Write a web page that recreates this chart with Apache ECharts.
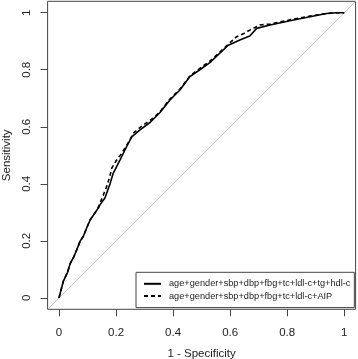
<!DOCTYPE html>
<html>
<head>
<meta charset="utf-8">
<script src="https://cdn.jsdelivr.net/npm/echarts@6/dist/echarts.min.js"></script>
<style>
  html, body { margin: 0; padding: 0; background: #fff; }
  #chart { width: 358px; height: 359px; }
</style>
</head>
<body>
<div id="chart"></div>
<script>
// ROC curves (1 - specificity, sensitivity)
const modelNames = [
  'age+gender+sbp+dbp+fbg+tc+ldl-c+tg+hdl-c',
  'age+gender+sbp+dbp+fbg+tc+ldl-c+AIP'
]
const fprA = [0, 0.004, 0.015, 0.021, 0.03, 0.039, 0.05, 0.062, 0.074, 0.085, 0.097, 0.109, 0.126, 0.138, 0.144, 0.161, 0.167, 0.179, 0.19, 0.214, 0.237, 0.255, 0.284, 0.319, 0.354, 0.389, 0.424, 0.459, 0.494, 0.529, 0.564, 0.592, 0.634, 0.669, 0.693, 0.74, 0.81, 0.88, 0.938, 0.97, 1]
const tprA = [0, 0.005, 0.058, 0.06, 0.09, 0.12, 0.14, 0.168, 0.199, 0.215, 0.245, 0.273, 0.298, 0.315, 0.327, 0.35, 0.367, 0.4, 0.437, 0.484, 0.53, 0.565, 0.589, 0.615, 0.65, 0.694, 0.729, 0.776, 0.8, 0.825, 0.858, 0.885, 0.904, 0.918, 0.945, 0.957, 0.972, 0.986, 0.997, 1, 1]
const fprB = [0, 0.004, 0.015, 0.021, 0.03, 0.039, 0.05, 0.062, 0.074, 0.085, 0.097, 0.109, 0.126, 0.138, 0.155, 0.167, 0.178, 0.185, 0.2, 0.22, 0.249, 0.26, 0.295, 0.33, 0.354, 0.389, 0.424, 0.459, 0.494, 0.529, 0.564, 0.6, 0.623, 0.65, 0.669, 0.704, 0.74, 0.81, 0.88, 0.938, 0.97, 1]
const tprB = [0, 0.005, 0.058, 0.06, 0.09, 0.12, 0.14, 0.168, 0.199, 0.215, 0.245, 0.273, 0.298, 0.318, 0.36, 0.39, 0.425, 0.455, 0.48, 0.507, 0.554, 0.577, 0.606, 0.63, 0.653, 0.697, 0.732, 0.778, 0.805, 0.83, 0.862, 0.895, 0.916, 0.928, 0.939, 0.957, 0.96, 0.975, 0.988, 0.997, 1, 1]
const diagonal = [-0.04, 1.04]
const tickValues = [0, 0.2, 0.4, 0.6, 0.8, 1]

const font = 'Liberation Sans, Arial, sans-serif'
const ink = '#222'
const frame = '#444'

const pairs = (xs, ys) => xs.map((x, i) => [x, ys[i]])

const chart = echarts.init(document.getElementById('chart'), null, { renderer: 'canvas' })

function axis(name, extra) {
  return Object.assign({
    type: 'value',
    min: diagonal[0],
    max: diagonal[1],
    name: name,
    nameLocation: 'middle',
    nameTextStyle: { fontFamily: font, fontSize: 11.5, color: ink },
    axisLine: { show: false, onZero: false },
    axisTick: { show: true, inside: false, length: 7, customValues: tickValues, lineStyle: { color: frame } },
    axisLabel: { customValues: tickValues, fontFamily: font, fontSize: 11.5, color: ink },
    splitLine: { show: false }
  }, extra)
}

const xAx = axis('1 - Specificity', { nameGap: 39 })
xAx.axisLabel.margin = 18
const yAx = axis('Sensitivity', { nameGap: 34 })
yAx.axisLabel.margin = 15
yAx.axisLabel.rotate = 90

chart.setOption({
  animation: false,
  backgroundColor: '#fff',
  grid: {
    left: 47.6, top: 1.3, width: 308, height: 308,
    outerBoundsMode: 'none', containLabel: false,
    show: true, borderColor: frame, borderWidth: 1, backgroundColor: 'transparent'
  },
  xAxis: xAx,
  yAxis: yAx,
  legend: {
    data: modelNames,
    orient: 'vertical',
    left: 136, top: 272.3,
    padding: [7, 4, 7, 7],
    itemWidth: 17, itemHeight: 9, itemGap: 3.3,
    backgroundColor: '#fff',
    borderColor: frame, borderWidth: 1, borderRadius: 0,
    itemStyle: { opacity: 0 },
    textStyle: { fontFamily: font, fontSize: 9.2, color: ink, padding: [0, 0, 0, 3] }
  },
  series: [
    {
      name: 'diag',
      type: 'line',
      data: pairs(diagonal, diagonal),
      symbol: 'none',
      lineStyle: { color: '#bdbdbd', width: 1 },
      silent: true,
      z: 1
    },
    {
      name: modelNames[0],
      type: 'line',
      data: pairs(fprA, tprA),
      symbol: 'none',
      color: '#000',
      lineStyle: { color: '#000', width: 1.6, type: 'solid' },
      z: 3
    },
    {
      name: modelNames[1],
      type: 'line',
      data: pairs(fprB, tprB),
      symbol: 'none',
      color: '#000',
      lineStyle: { color: '#000', width: 1.6, type: [4, 3] },
      z: 2
    }
  ]
})
</script>
</body>
</html>
